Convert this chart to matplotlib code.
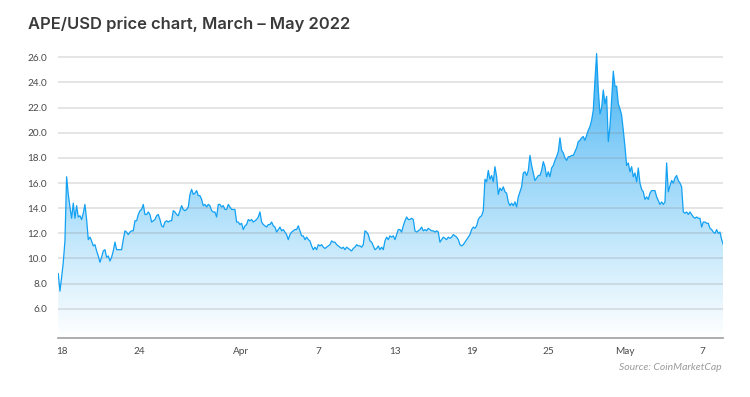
import numpy as np
import pandas as pd
import matplotlib
matplotlib.use("Agg")
import matplotlib.pyplot as plt
import matplotlib.dates as mdates
from matplotlib.colors import LinearSegmentedColormap

# APE/USD price, sampled evenly between first and last timestamp
prices = [
    8.8, 7.4, 8.5, 9.7, 11.4, 16.5, 15.1, 14.1,
    13.2, 14.4, 13.2, 14.2, 13.3, 13.4, 13.1, 13.6, 14.3, 13.1,
    11.5, 11.7, 11.4, 11.0, 11.1, 10.6, 10.2, 9.7, 10.1, 10.6,
    10.7, 10.1, 10.2, 9.8, 10.1, 10.6, 11.3, 10.7, 10.7, 10.7,
    10.7, 11.5, 12.2, 12.1, 11.9, 12.1, 12.2, 12.2, 13.0, 13.0,
    13.5, 13.8, 13.9, 14.3, 13.5, 13.5, 13.7, 13.5, 12.9, 13.0,
    13.1, 13.4, 13.5, 13.1, 12.6, 12.5, 12.9, 13.0, 12.9, 13.0,
    13.0, 13.8, 13.7, 13.5, 13.4, 13.8, 14.2, 13.9, 13.8, 13.9,
    14.1, 15.1, 15.5, 15.1, 15.2, 15.4, 15.0, 15.0, 14.7, 14.2,
    14.3, 14.1, 14.3, 14.2, 13.8, 13.7, 13.7, 13.3, 14.3, 14.3,
    14.1, 14.2, 13.9, 13.9, 14.3, 14.1, 13.9, 13.9, 13.9, 12.9,
    12.9, 12.7, 12.8, 12.3, 12.6, 12.7, 13.1, 13.0, 13.1, 12.9,
    13.0, 13.1, 13.3, 13.7, 12.9, 12.7, 12.6, 12.5, 12.7, 12.7,
    12.9, 12.6, 12.5, 12.1, 12.3, 12.5, 12.2, 12.3, 12.1, 11.9,
    11.5, 11.9, 12.1, 12.2, 12.3, 12.3, 12.6, 12.2, 11.8, 11.8,
    11.5, 11.7, 11.5, 11.4, 11.0, 10.7, 10.9, 10.7, 11.1, 11.0,
    11.1, 10.9, 10.8, 10.9, 11.0, 11.1, 11.4, 11.3, 11.3, 11.1,
    11.0, 10.9, 10.8, 10.9, 10.7, 10.9, 10.8, 10.7, 10.6, 10.8,
    10.9, 11.1, 11.0, 11.0, 10.9, 11.1, 12.2, 12.1, 11.9, 11.4,
    11.3, 11.0, 10.7, 10.8, 11.0, 10.7, 10.9, 10.7, 11.4, 11.7,
    11.5, 11.8, 11.7, 11.8, 11.5, 11.9, 12.3, 12.3, 12.1, 12.6,
    13.0, 13.3, 13.1, 13.1, 13.2, 13.1, 12.2, 12.1, 12.2, 12.3,
    12.5, 12.2, 12.3, 12.2, 12.4, 12.3, 12.2, 12.2, 12.1, 12.2,
    12.1, 11.3, 11.5, 11.7, 11.6, 11.5, 11.7, 11.6, 11.7, 11.9,
    11.8, 11.7, 11.5, 11.1, 11.0, 11.1, 11.3, 11.5, 11.7, 11.9,
    12.3, 12.5, 12.4, 12.6, 13.1, 13.3, 13.4, 13.8, 16.3, 16.1,
    17.0, 16.3, 16.6, 16.1, 17.3, 16.5, 15.1, 15.6, 15.4, 15.7,
    15.3, 15.2, 14.5, 14.2, 14.4, 14.2, 14.5, 14.1, 14.9, 15.3,
    15.7, 16.8, 16.9, 16.6, 17.0, 18.2, 17.4, 16.8, 16.2, 16.4,
    16.6, 16.6, 17.0, 17.7, 17.3, 16.5, 16.9, 16.5, 17.2, 17.4,
    17.8, 18.1, 18.5, 19.6, 18.6, 18.4, 18.0, 17.8, 18.1, 18.1,
    18.2, 18.2, 18.5, 18.8, 19.3, 19.4, 19.6, 19.7, 19.4, 19.8,
    20.2, 20.5, 21.0, 21.8, 24.2, 26.3, 23.4, 21.5, 22.0, 23.4,
    22.3, 22.9, 19.3, 20.5, 22.6, 24.9, 23.7, 23.7, 22.3, 21.9,
    21.4, 20.2, 18.9, 17.4, 17.6, 16.9, 17.3, 16.5, 16.8, 16.1,
    17.2, 16.0, 15.5, 15.3, 14.7, 14.9, 14.7, 15.2, 15.4, 15.4,
    15.4, 14.9, 14.6, 14.3, 14.5, 14.3, 14.5, 17.6, 15.3, 15.8,
    16.2, 16.0, 16.4, 16.6, 16.2, 16.0, 15.7, 13.7, 13.6, 13.7,
    13.5, 13.7, 13.5, 13.3, 13.2, 13.3, 13.2, 13.2, 12.5, 12.9,
    12.9, 12.8, 12.8, 12.4, 12.3, 12.1, 12.0, 12.3, 12.0, 12.1,
    11.5, 11.1,
]
start_time = "2022-03-17 17:00"
end_time = "2022-05-08 16:00"

tick_dates = ["2022-03-18", "2022-03-24", "2022-04-01", "2022-04-07", "2022-04-13",
              "2022-04-19", "2022-04-25", "2022-05-01", "2022-05-07"]
tick_labels = ["18", "24", "Apr", "7", "13", "19", "25", "May", "7"]
y_ticks = [6, 8, 10, 12, 14, 16, 18, 20, 22, 24, 26]

title = "APE/USD price chart, March \u2013 May 2022"
source = "Source: CoinMarketCap"

times = pd.date_range(start_time, end_time, periods=len(prices))
x = mdates.date2num(times)
y = np.array(prices)
y_bottom, y_top = 3.7, 26.6

fig = plt.figure(figsize=(7.5, 3.97), dpi=100)
ax = fig.add_axes([0.0777, 0.1494, 0.8867, 0.7252])

line_color = "#12a1f3"
# vertical gradient under the line
cmap = LinearSegmentedColormap.from_list("fade", ["#ffffff", "#c4e8fc", "#88cff8", "#3eb0f3"])
grad = np.linspace(0, 1, 256).reshape(-1, 1)
fill = ax.fill_between(x, y, y_bottom, color="none", lw=0)
im = ax.imshow(grad, cmap=cmap, aspect="auto", origin="lower",
               extent=[x[0], x[-1], y_bottom, y.max()], zorder=1)
im.set_clip_path(fill.get_paths()[0], transform=ax.transData)

ax.plot(x, y, color=line_color, lw=0.9, zorder=3)

ax.set_xlim(x[0], x[-1])
ax.set_ylim(y_bottom, y_top)

ax.set_yticks(y_ticks)
ax.set_yticklabels([f"{v:.1f}" for v in y_ticks])
ax.set_xticks(mdates.date2num(pd.to_datetime(tick_dates)))
ax.set_xticklabels(tick_labels)

ax.grid(axis="y", color="#808080", alpha=0.24, lw=1.2, zorder=2)
ax.set_axisbelow(False)
for s in ["top", "right", "left"]:
    ax.spines[s].set_visible(False)
ax.spines["bottom"].set_color("#a0a0a0")
ax.spines["bottom"].set_linewidth(1.2)
ax.spines["bottom"].set_zorder(4)
ax.tick_params(axis="both", length=0, labelsize=7.2, colors="#4a4a4a", labelfontfamily="Lato")
ax.tick_params(axis="y", pad=8)
ax.tick_params(axis="x", pad=7)

fig.text(28 / 750, 1 - 24.5 / 397, title, fontsize=11.9, fontweight="semibold", family="Inter",
         color="#3a3a3a", ha="left", va="center")
fig.text(722 / 750, 1 - 367 / 397, source, fontsize=7.5, style="italic", family="Lato",
         color="#9a9a9a", ha="right", va="center")

fig.savefig("out.png", dpi=100)
